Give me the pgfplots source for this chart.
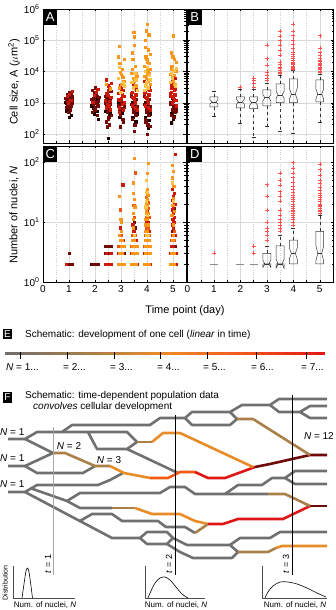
\documentclass[border=0pt]{standalone}
\usepackage{fontspec}
\setmainfont{Liberation Sans}
\usepackage{pgfplots}
\pgfplotsset{compat=1.18}

% scatter colours (hot-like)
\definecolor{hk0}{RGB}{35,0,0}
\definecolor{hk1}{RGB}{115,10,10}
\definecolor{hk2}{RGB}{205,25,10}
\definecolor{hk3}{RGB}{240,85,10}
\definecolor{hk4}{RGB}{250,150,25}
\definecolor{hk5}{RGB}{252,195,70}
\definecolor{outred}{RGB}{255,80,80}
% schematic colours
\definecolor{ngray}{RGB}{112,112,112}
\definecolor{nbrown}{RGB}{168,128,72}
\definecolor{norange}{RGB}{232,140,40}
\definecolor{nored}{RGB}{242,90,20}
\definecolor{nred}{RGB}{222,22,22}
\definecolor{ndred}{RGB}{110,10,10}

\newcommand{\fs}[1]{\fontsize{#1}{#1}\selectfont}

\pgfplotsset{
  pnlstyle/.style={
    scale only axis, xmin=0, xmax=5.5, xtick={0,1,2,3,4,5}, minor x tick num=1,
    xmajorgrids, xminorgrids, ymajorgrids,
    major grid style={gray!30, line width=0.4pt},
    minor grid style={gray!40, dotted, line width=0.4pt},
    axis line style={line width=0.7pt},
    tick style={black, line width=0.4pt},
    major tick length=2.5pt, minor tick length=1.5pt,
    unbounded coords=jump,
    tick label style={font=\fs{10}},
  },
  sqmark/.style={only marks, mark=square*, mark size=1.15pt},
  bxline/.style={black!80, line width=0.5pt, mark=none},
  whline/.style={black!80, line width=0.5pt, dashed, mark=none},
  outmark/.style={only marks, mark=+, mark size=2pt, color=outred, mark options={line width=0.5pt}},
  netline/.style={ngray, line width=2.6pt, line join=round, mark=none},
}
\tikzset{panlab/.style={fill=black, text=white, font=\fs{13}, inner sep=0pt,
    minimum width=14pt, minimum height=16pt, anchor=north west}}

\begin{document}
\begin{tikzpicture}
\useasboundingbox (0pt,0pt) rectangle (335pt,610pt);

% ---------- canvas for labels, E and F (image coordinates, y down) ----------
\begin{axis}[at={(0pt,0pt)}, anchor=south west, width=335pt, height=610pt,
  scale only axis, xmin=0, xmax=335, ymin=0, ymax=610, y dir=reverse,
  hide axis, clip=false, unbounded coords=jump,
  colormap={ecol}{rgb255(0)=(110,110,110) rgb255(2)=(165,125,75) rgb255(4)=(238,140,40) rgb255(6)=(242,85,28) rgb255(8)=(225,22,22)}]

% axis titles of A-D
\node[rotate=90, font=\fs{11}] at (14,82) {Cell size, A ($\mu$m\textsuperscript{2})};
\node[rotate=90, font=\fs{11}] at (14,215) {Number of nuclei, \textit{N}};
\node[font=\fs{11}] at (185,311) {Time point (day)};

% E
\node[fill=black, text=white, font=\fs{10}, inner sep=0pt, minimum width=9pt, minimum height=10.5pt] at (7.5,334) {E};
\node[anchor=west, inner sep=0pt, font=\fs{10}] at (25,335) {Schematic: development of one cell (\textit{linear} in time)};
\addplot[mesh, line width=3pt, point meta=x] coordinates {
(5,353)(13,353)(21,353)(29,353)(37,353)(45,353)(53,353)(61,353)(69,353)(77,353)(85,353)
(93,353)(101,353)(109,353)(117,353)(125,353)(133,353)(141,353)(149,353)(157,353)(165,353)
(173,353)(181,353)(189,353)(197,353)(205,353)(213,353)(221,353)(229,353)(237,353)(245,353)
(253,353)(261,353)(269,353)(277,353)(285,353)(293,353)(301,353)(309,353)(317,353)(325,353)};
\addplot[black, line width=0.8pt] coordinates {
(20.7,352)(20.7,359)(20.7,nan)(67.3,352)(67.3,359)(67.3,nan)(114,352)(114,359)(114,nan)
(160.7,352)(160.7,359)(160.7,nan)(207.3,352)(207.3,359)(207.3,nan)(256,352)(256,359)(256,nan)
(306,352)(306,359)};
\node[anchor=west, inner sep=0pt, font=\fs{10}] at (6,367) {\textit{N} = 1...};
\node[anchor=west, inner sep=0pt, font=\fs{10}] at (63,367) {= 2...};
\node[anchor=west, inner sep=0pt, font=\fs{10}] at (110,367) {= 3...};
\node[anchor=west, inner sep=0pt, font=\fs{10}] at (157,367) {= 4...};
\node[anchor=west, inner sep=0pt, font=\fs{10}] at (203,367) {= 5...};
\node[anchor=west, inner sep=0pt, font=\fs{10}] at (251,367) {= 6...};
\node[anchor=west, inner sep=0pt, font=\fs{10}] at (301,367) {= 7...};

% F
\node[fill=black, text=white, font=\fs{10}, inner sep=0pt, minimum width=9pt, minimum height=11pt] at (7.5,397) {F};
\node[anchor=west, inner sep=0pt, font=\fs{10}] at (25,396) {Schematic: time-dependent population data};
\node[anchor=west, inner sep=0pt, font=\fs{10}] at (33,407) {\textit{convolves} cellular development};

% lineage network, grey branches
\addplot[netline] coordinates {(8,439)(25,439)(37,432)(62,432)(72,425)(150,425)(160,418)(185,418)(192,412)(230,412)(242,405)(270,405)(279,399)(327,399)};
\addplot[netline] coordinates {(185,418)(192,425)(230,425)(237,419)(230,412)};
\addplot[netline] coordinates {(270,405)(279,412)(300,412)(310,406)(327,406)};
\addplot[netline] coordinates {(300,412)(310,418)(327,418)};
\addplot[netline] coordinates {(62,432)(127,432)(137,442)};
\addplot[netline] coordinates {(88,432)(97,449)(127,449)(137,442)};
\addplot[netline] coordinates {(127,449)(178,473)};
\addplot[netline] coordinates {(25,439)(53,453)};
\addplot[netline] coordinates {(8,466)(25,466)(53,453)};
\addplot[netline] coordinates {(25,466)(37,473)(83,473)(95,466)};
\addplot[netline] coordinates {(8,492)(25,492)(37,485)(98,485)(110,480)(123,473)};
\addplot[netline] coordinates {(30,488)(67,501)(80,493)(160,493)(170,487)(185,487)(195,494)(268,494)};
\addplot[netline] coordinates {(67,501)(80,508)(112,508)};
\addplot[netline] coordinates {(25,492)(112,538)(140,538)};
\addplot[netline] coordinates {(140,538)(147,532)(167,532)(173,538)(167,544)(147,544)(140,538)};
\addplot[netline] coordinates {(173,538)(187,545)(230,545)(238,552)};
\addplot[netline] coordinates {(167,544)(180,552)(193,558)(232,558)(238,552)};
\addplot[netline] coordinates {(80,521)(92,514)(112,514)(122,521)(158,521)(166,527)(185,527)(195,533)};
\addplot[netline] coordinates {(230,545)(240,538)(270,538)(280,532)(327,532)};
\addplot[netline] coordinates {(225,494)(238,485)(262,485)(272,478)(285,478)(295,471)(327,471)};
\addplot[netline] coordinates {(285,478)(295,484)(327,484)};
% coloured branches
\addplot[netline, nbrown] coordinates {(53,453)(65,453)(95,466)(110,466)};
\addplot[netline, norange] coordinates {(110,466)(124,473)(150,478)};
\addplot[netline, nored] coordinates {(150,478)(168,478)(180,472)(195,472)};
\addplot[netline, nred] coordinates {(195,472)(208,478)(225,478)(255,467)};
\addplot[netline, ndred] coordinates {(255,467)(270,464)(310,455)(327,455)};
\addplot[netline, nbrown] coordinates {(137,442)(152,442)};
\addplot[netline, norange] coordinates {(152,442)(163,433)(180,433)(253,467)};
\addplot[netline, nbrown] coordinates {(237,419)(253,419)(310,455)};
\addplot[netline, nbrown] coordinates {(112,508)(135,508)};
\addplot[netline, norange] coordinates {(135,508)(152,514)(180,514)(195,521)(208,524)};
\addplot[netline, nbrown] coordinates {(195,533)(208,524)};
\addplot[netline, nred] coordinates {(208,524)(223,524)(238,519)(283,519)(310,506)};
\addplot[netline, nbrown] coordinates {(268,494)(285,494)(310,506)};
\addplot[netline, ndred] coordinates {(310,506)(327,506)};
\addplot[netline, nbrown] coordinates {(238,552)(268,552)(276,548)};
\addplot[netline, norange] coordinates {(276,548)(282,546)(327,546)};
% time lines
\addplot[gray!70, line width=1pt] coordinates {(53,427)(53,575)};
\addplot[black, line width=0.9pt] coordinates {(175,415)(175,575)};
\addplot[black, line width=0.9pt] coordinates {(292,395)(292,575)};
\node[rotate=90, font=\fs{9}] at (48,564) {\textit{t} = 1};
\node[rotate=90, font=\fs{9}] at (169,564) {\textit{t} = 2};
\node[rotate=90, font=\fs{9}] at (286,564) {\textit{t} = 3};
\node[font=\fs{10}] at (69,446) {\textit{N} = 2};
\node[font=\fs{10}] at (109,460) {\textit{N} = 3};
\node[anchor=east, font=\fs{10}, inner sep=0pt] at (334,436) {\textit{N} = 12};
\node[anchor=west, font=\fs{10}, inner sep=0pt] at (0,432) {\textit{N} = 1};
\node[anchor=west, font=\fs{10}, inner sep=0pt] at (0,458) {\textit{N} = 1};
\node[anchor=west, font=\fs{10}, inner sep=0pt] at (0,484) {\textit{N} = 1};

% distributions
\addplot[black!70, line width=0.5pt] coordinates {(13,566)(13,598)(75,598)};
\addplot[black!70, line width=0.5pt] coordinates {(145,566)(145,598)(205,598)};
\addplot[black!70, line width=0.5pt] coordinates {(262,566)(262,598)(327,598)};
\addplot[black, line width=0.6pt, smooth] coordinates {(22,598)(24,584)(26,571)(27.5,568)(29,572)(31,586)(32.5,598)};
\addplot[black, line width=0.6pt, smooth] coordinates {(148,598)(151,591)(155,583)(160,578)(165,577)(170,580)(176,587)(182,594)(188,598)};
\addplot[black, line width=0.6pt, smooth] coordinates {(265,598)(268,592)(273,586)(280,582)(288,582)(297,584)(307,588)(317,593)(326,597)};
\node[rotate=90, font=\fs{7}] at (5,583) {Distribution};
\node[font=\fs{8}] at (45,605) {Num. of nuclei, \textit{N}};
\node[font=\fs{8}] at (176,605) {Num. of nuclei, \textit{N}};
\node[font=\fs{8}] at (295,605) {Num. of nuclei, \textit{N}};
\end{axis}

% ---------- A ----------
\begin{axis}[pnlstyle, ymode=log, ymin=51.5, ymax=1e6, height=134pt, ytick={1e2,1e3,1e4,1e5,1e6},
  at={(43pt,467pt)}, anchor=south west, width=143pt,
  xticklabels={}, yticklabels={10\textsuperscript{2},10\textsuperscript{3},10\textsuperscript{4},10\textsuperscript{5},10\textsuperscript{6}}]
\addplot[sqmark, hk0] coordinates {(0.89,950)(0.94,650)(0.98,1250)(1.03,850)(1.08,400)(1.11,1150)(0.91,550)(1.0,350)(1.05,1400)(0.86,1050)
(1.89,1000)(1.94,700)(1.98,450)(2.03,1300)(2.08,900)(2.11,300)(1.86,800)(2.01,1100)(2.06,550)(2.13,1250)
(2.42,850)(2.5,75)(2.57,450)(2.4,550)(2.53,1150)(2.95,350)(3.05,480)(2.9,1000)
(3.45,350)(3.52,850)(3.6,450)(3.42,1000)(3.57,250)
(3.94,350)(4.02,850)(4.1,450)(3.92,1000)(4.07,280)(3.97,700)(4.04,150)
(4.95,450)(5.02,300)(5.1,650)(4.92,230)(5.05,380)};
\addplot[sqmark, hk1] coordinates {(0.88,1200)(0.93,900)(0.97,1500)(1.02,1100)(1.07,800)(1.12,1300)(0.9,700)(0.95,1800)(1.0,2200)(1.05,600)(1.1,1000)(0.87,1400)(0.92,1100)(0.99,500)(1.04,1700)(1.09,900)(1.13,1600)(0.96,750)(1.01,1300)(1.06,2000)
(1.87,1300)(1.92,900)(1.97,2100)(2.02,700)(2.07,1600)(2.12,1100)(1.9,500)(1.95,1400)(2.0,3000)(2.05,1000)(2.1,800)(1.88,2500)(1.93,1200)(1.99,600)(2.04,1800)(2.09,400)(2.14,1500)
(2.41,1000)(2.46,500)(2.51,750)(2.56,1300)(2.61,400)(2.43,250)(2.48,1900)(2.53,350)(2.58,900)(2.39,1600)(2.5,300)(2.55,200)(2.6,2300)(2.45,1400)(2.52,600)(2.47,170)
(2.91,800)(2.96,400)(3.01,1100)(3.06,300)(3.11,750)(2.93,550)(2.98,170)(3.03,650)(3.08,250)(3.0,950)
(3.41,900)(3.46,500)(3.51,1100)(3.56,400)(3.61,750)(3.43,300)(3.48,650)(3.53,200)(3.58,1300)(3.39,1600)(3.5,120)(3.55,550)
(3.91,900)(3.96,500)(4.01,1100)(4.06,400)(4.11,750)(3.93,300)(3.98,650)(4.03,200)(4.08,1300)(3.89,1600)(4.0,100)(4.05,550)(3.95,250)(4.1,180)
(4.91,900)(4.96,600)(5.01,1100)(5.06,500)(5.11,750)(4.93,400)(4.98,1400)(5.03,350)(5.08,700)(4.89,1000)(5.0,800)(5.1,550)};
\addplot[sqmark, hk2] coordinates {(0.93,1600)(1.02,1900)(1.07,1200)(0.97,1000)(1.12,2300)
(1.96,1700)(2.05,2200)(1.91,1050)(2.1,2700)
(2.4,1200)(2.45,2000)(2.5,3500)(2.55,800)(2.6,1500)(2.42,5500)(2.47,900)(2.52,2500)(2.57,1100)(2.62,4200)(2.44,700)(2.49,1700)(2.54,3000)(2.59,600)
(2.9,2000)(2.95,1200)(3.0,2800)(3.05,900)(3.1,1600)(2.92,700)(2.97,3500)(3.02,1400)(3.07,2500)(3.12,1000)(2.94,500)(3.04,1800)(3.09,600)(2.88,1300)(2.99,2200)
(3.4,2000)(3.45,1500)(3.5,3000)(3.55,1000)(3.6,2500)(3.42,800)(3.47,4000)(3.52,1200)(3.57,1800)(3.62,600)(3.44,2200)(3.54,700)(3.59,3200)(3.49,1400)
(3.9,2000)(3.95,1500)(4.0,3000)(4.05,1000)(4.1,2500)(3.92,800)(3.97,4000)(4.02,1200)(4.07,1800)(4.12,600)(3.94,2200)(4.04,700)(4.09,3200)(3.99,1400)(3.89,5000)(4.06,2700)
(4.9,2000)(4.95,3000)(5.0,1500)(5.05,2500)(5.1,1200)(4.92,4000)(4.97,1000)(5.02,3500)(5.07,1800)(5.12,800)(4.94,2200)(5.04,1300)(5.09,2800)(4.99,5000)(4.91,1600)(5.06,6000)};
\addplot[sqmark, hk4] coordinates {(2.44,3900)(2.58,2800)
(2.9,30000)(2.95,18000)(3.0,8000)(3.05,12000)(3.1,5000)(2.92,65000)(2.97,9500)(3.02,4000)(3.07,6500)(3.12,25000)(2.94,3000)(3.04,7000)
(3.4,9000)(3.45,25000)(3.5,5000)(3.55,15000)(3.6,7000)(3.42,40000)(3.47,6000)(3.52,70000)(3.57,3500)(3.44,12000)(3.49,180000)(3.58,8500)(3.5,130000)
(3.9,15000)(3.95,30000)(4.0,8000)(4.05,50000)(4.1,12000)(3.92,100000)(3.97,6000)(4.02,20000)(4.07,9000)(4.12,4000)(3.94,60000)(3.99,25000)(4.04,5000)(4.09,18000)(4.0,320000)(3.96,200000)(4.06,150000)(3.91,7000)(4.11,35000)(4.03,11000)
(4.9,8000)(4.95,15000)(5.0,5000)(5.05,25000)(5.1,10000)(4.92,40000)(4.97,6500)(5.02,140000)(5.07,4000)(5.12,20000)(4.94,12000)(5.04,7500)(4.99,30000)};
\addplot[sqmark, hk5] coordinates {(2.93,14000)(3.08,4500)(2.99,2200)(3.11,3500)(2.89,6000)
(3.41,4500)(3.46,3000)(3.56,5500)(3.61,2500)(3.53,9000)
(3.93,10000)(3.98,4500)(4.03,3000)(4.08,7500)(3.9,2500)(4.1,5500)(4.0,14000)(3.95,3500)
(4.93,9000)(5.08,3500)(4.98,6000)(5.11,13000)(4.89,4500)(5.03,11000)};
\node[panlab] at (rel axis cs:0,1) {A};
\end{axis}

% ---------- B ----------
\begin{axis}[pnlstyle, ymode=log, ymin=51.5, ymax=1e6, height=134pt, ytick={1e2,1e3,1e4,1e5,1e6},
  at={(187.5pt,467pt)}, anchor=south west, width=145.5pt,
  xticklabels={}, yticklabels={}]
\addplot[bxline] coordinates {
(0.85,740)(0.85,910)(0.925,1070)(0.85,1260)(0.85,1550)(1.15,1550)(1.15,1260)(1.075,1070)(1.15,910)(1.15,740)(0.85,740)(1,nan)
(1.85,690)(1.85,880)(1.925,1070)(1.85,1300)(1.85,1550)(2.15,1550)(2.15,1300)(2.075,1070)(2.15,880)(2.15,690)(1.85,690)(2,nan)
(2.35,650)(2.35,820)(2.425,1000)(2.35,1220)(2.35,1550)(2.65,1550)(2.65,1220)(2.575,1000)(2.65,820)(2.65,650)(2.35,650)(2.5,nan)
(2.85,800)(2.85,1150)(2.925,1450)(2.85,1800)(2.85,2570)(3.15,2570)(3.15,1800)(3.075,1450)(3.15,1150)(3.15,800)(2.85,800)(3,nan)
(3.35,1000)(3.35,1400)(3.425,1800)(3.35,2300)(3.35,4000)(3.65,4000)(3.65,2300)(3.575,1800)(3.65,1400)(3.65,1000)(3.35,1000)(3.5,nan)
(3.85,1000)(3.85,1260)(3.925,1900)(3.85,2950)(3.85,5750)(4.15,5750)(4.15,2950)(4.075,1900)(4.15,1260)(4.15,1000)(3.85,1000)(4,nan)
(4.85,1070)(4.85,1300)(4.925,1900)(4.85,2800)(4.85,5400)(5.15,5400)(5.15,2800)(5.075,1900)(5.15,1300)(5.15,1070)(4.85,1070)};
\addplot[bxline] coordinates {(0.925,1070)(1.075,1070)(1,nan)(1.925,1070)(2.075,1070)(2,nan)(2.425,1000)(2.575,1000)(2.5,nan)
(2.925,1450)(3.075,1450)(3,nan)(3.425,1800)(3.575,1800)(3.5,nan)(3.925,1900)(4.075,1900)(4,nan)(4.925,1900)(5.075,1900)};
\addplot[whline] coordinates {(1,1550)(1,2400)(1,nan)(1,740)(1,360)(1,nan)
(2,1550)(2,2700)(2,nan)(2,690)(2,220)(2,nan)
(2.5,1550)(2.5,2750)(2.5,nan)(2.5,650)(2.5,78)(2.5,nan)
(3,2570)(3,4300)(3,nan)(3,800)(3,175)(3,nan)
(3.5,4000)(3.5,7800)(3.5,nan)(3.5,1000)(3.5,120)(3.5,nan)
(4,5750)(4,11000)(4,nan)(4,1000)(4,105)(4,nan)
(5,5400)(5,8300)(5,nan)(5,1070)(5,235)};
\addplot[bxline] coordinates {(0.925,2400)(1.075,2400)(1,nan)(0.925,360)(1.075,360)(1,nan)
(1.925,2700)(2.075,2700)(2,nan)(1.925,220)(2.075,220)(2,nan)
(2.425,2750)(2.575,2750)(2.5,nan)(2.425,78)(2.575,78)(2.5,nan)
(2.925,4300)(3.075,4300)(3,nan)(2.925,175)(3.075,175)(3,nan)
(3.425,7800)(3.575,7800)(3.5,nan)(3.425,120)(3.575,120)(3.5,nan)
(3.925,11000)(4.075,11000)(4,nan)(3.925,105)(4.075,105)(4,nan)
(4.925,8300)(5.075,8300)(5,nan)(4.925,235)(5.075,235)};
\addplot[outmark] coordinates {(2,3200)(2.5,3200)(2.5,4300)(2.5,5400)(2.5,6200)
(3,5400)(3,6200)(3,7800)(3,9500)(3,16000)(3,26000)(3,69000)
(3.5,8700)(3.5,9500)(3.5,11000)(3.5,12500)(3.5,14000)(3.5,17000)(3.5,20000)(3.5,33000)(3.5,48000)(3.5,69000)(3.5,98000)(3.5,132000)(3.5,195000)
(4,12000)(4,13000)(4,14000)(4,15000)(4,16500)(4,18000)(4,20000)(4,23000)(4,26000)(4,30000)(4,35000)(4,42000)(4,55000)(4,75000)(4,100000)(4,140000)(4,200000)(4,330000)
(5,9500)(5,10500)(5,11500)(5,12500)(5,14000)(5,15500)(5,17000)(5,19000)(5,21000)(5,23000)(5,27000)(5,32000)(5,40000)(5,55000)(5,140000)};
\node[panlab] at (rel axis cs:0,1) {B};
\end{axis}

% ---------- C ----------
\begin{axis}[pnlstyle, ymode=log, ymin=1, ymax=185, height=136pt, ytick={1,10,100},
  at={(43pt,328pt)}, anchor=south west, width=143pt,
  xticklabel style={/pgf/number format/assume math mode=true},
  yticklabels={10\textsuperscript{0},10\textsuperscript{1},10\textsuperscript{2}}]
\addplot[sqmark, hk0] coordinates {(0.95,2)(1.12,2)(1.87,2)(1.92,2)(1.97,2)(2.02,2)(2.07,2)(2.12,2)(2.48,3)(3.11,3)(3.5,3)};
\addplot[sqmark, hk1] coordinates {(0.88,2)(0.93,2)(1.0,2)(1.05,2)(1.1,2)(1.0,3)(1.89,2)(2.0,2)(2.1,2)
(2.4,3)(2.5,3)(2.55,3)(2.4,4)(2.45,4)(2.5,4)(2.55,4)(2.6,4)(2.97,2)(3.09,2)(2.94,4)
(3.47,2)(3.53,8)(3.52,10)(4.0,8)(4.97,4)(5.08,4)(4.98,7)(5.0,10)(5.05,17)};
\addplot[sqmark, hk2] coordinates {(0.9,2)(2.38,2)(2.42,2)(2.47,2)(2.52,2)(2.57,2)(2.62,2)(2.44,3)(2.6,3)
(2.88,2)(2.94,2)(3.0,2)(3.06,2)(2.9,3)(3.0,3)(3.08,3)(3.08,5)(2.98,8)(3.07,42)
(3.38,2)(3.44,2)(3.5,2)(3.56,2)(3.62,2)(3.4,3)(3.48,3)(3.56,3)(3.46,5)(3.56,5)(3.46,7)(3.52,7)(3.45,9)
(3.88,2)(3.94,2)(4.0,2)(4.06,2)(4.12,2)(3.9,3)(3.98,3)(4.06,3)(3.96,5)(4.04,5)(3.98,7)(4.06,7)(3.98,10)(4.03,10)(4.0,15)
(4.88,2)(4.94,2)(5.0,2)(5.06,2)(5.12,2)(4.9,3)(5.0,3)(5.1,3)(4.92,4)(5.02,4)(4.96,6)(5.06,6)(5.0,8)(4.97,9)(5.03,10)(4.99,11)(5.05,12)(5.0,14)(4.96,16)(5.02,18)(5.06,20)(4.98,23)(5.01,27)(5.04,30)(4.97,35)(5.08,135)};
\addplot[sqmark, hk3] coordinates {(2.9,4)(2.98,4)(3.06,4)(3.0,6)(2.97,16)
(3.4,4)(3.48,4)(3.56,4)(3.44,6)(3.54,6)(3.5,12)(3.49,19)(3.55,66)
(3.9,4)(3.98,4)(4.06,4)(3.92,6)(4.0,6)(4.08,6)(3.96,8)(4.04,8)(3.97,12)(4.06,12)(4.05,17)(4.04,21)(3.96,26)
(4.94,5)(5.04,5)(5.04,7)};
\addplot[sqmark, hk4] coordinates {(2.91,2)(3.03,2)(3.12,2)(2.95,3)(3.05,3)(3.02,4)(3.12,4)(2.96,5)(3.04,5)(2.94,6)(3.02,7)(3.02,10)(2.99,11)(2.93,27)
(3.41,2)(3.53,2)(3.59,2)(3.44,3)(3.52,3)(3.6,3)(3.44,4)(3.52,4)(3.6,4)(3.42,5)(3.5,5)(3.48,8)(3.48,11)(3.47,14)(3.53,18)(3.5,24)(3.46,30)(3.48,45)(3.5,117)
(3.91,2)(3.97,2)(4.03,2)(4.09,2)(3.94,3)(4.02,3)(4.1,3)(3.94,4)(4.02,4)(4.1,4)(3.92,5)(4.0,5)(4.08,5)(3.94,7)(4.02,7)(3.95,9)(4.05,9)(4.0,11)(3.94,11)(3.96,14)(4.04,14)(3.98,16)(4.02,19)(3.99,20)(4.01,24)(4.03,28)(4.02,35)(4.0,65)(4.04,96)
(4.91,2)(5.03,2)(4.95,3)(5.05,3)(4.99,5)(5.01,6)(5.02,9)(4.95,13)(5.04,15)(4.99,19)(5.0,25)(5.03,40)(4.96,55)(5.0,70)(4.98,89)};
\addplot[sqmark, hk5] coordinates {(3.5,6)(3.96,6)(4.04,6)(4.01,13)(3.95,18)(3.97,22)(3.99,31)(3.97,50)(5.01,22)(4.97,45)};
\node[panlab] at (rel axis cs:0,1) {C};
\end{axis}

% ---------- D ----------
\begin{axis}[pnlstyle, ymode=log, ymin=1, ymax=185, height=136pt, ytick={1,10,100},
  at={(187.5pt,328pt)}, anchor=south west, width=145.5pt, yticklabels={},
  xticklabel style={/pgf/number format/assume math mode=true}]
\addplot[bxline, black!45] coordinates {(0.85,2)(1.15,2)(1,nan)(1.85,2)(2.15,2)(2,nan)(2.35,2)(2.65,2)};
\addplot[bxline] coordinates {
(2.85,2)(2.85,1.75)(2.925,2)(2.85,2.3)(2.85,3)(3.15,3)(3.15,2.3)(3.075,2)(3.15,1.75)(3.15,2)(2.85,2)(3,nan)
(3.35,2)(3.35,1.7)(3.425,2)(3.35,2.4)(3.35,4)(3.65,4)(3.65,2.4)(3.575,2)(3.65,1.7)(3.65,2)(3.35,2)(3.5,nan)
(3.85,2)(3.85,2.4)(3.925,3)(3.85,3.7)(3.85,5)(4.15,5)(4.15,3.7)(4.075,3)(4.15,2.4)(4.15,2)(3.85,2)(4,nan)
(4.85,2)(4.85,2.2)(4.925,3)(4.85,4.1)(4.85,7)(5.15,7)(5.15,4.1)(5.075,3)(5.15,2.2)(5.15,2)(4.85,2)};
\addplot[bxline] coordinates {(2.925,2)(3.075,2)(3,nan)(3.425,2)(3.575,2)(3.5,nan)(3.925,3)(4.075,3)(4,nan)(4.925,3)(5.075,3)};
\addplot[whline] coordinates {(3,3)(3,4)(3,nan)(3.5,4)(3.5,6)(3.5,nan)(4,5)(4,8)(4,nan)(5,7)(5,13)};
\addplot[bxline] coordinates {(2.925,4)(3.075,4)(3,nan)(3.425,6)(3.575,6)(3.5,nan)(3.925,8)(4.075,8)(4,nan)(4.925,13)(5.075,13)};
\addplot[outmark] coordinates {(1,3)(2.5,3)(2.5,4)(3,5)(3,6)(3,7)(3,8)(3,10)(3,16)(3,27)(3,42)
(3.5,7)(3.5,8)(3.5,9)(3.5,10)(3.5,11)(3.5,13)(3.5,16)(3.5,22)(3.5,27)(3.5,32)(3.5,41)(3.5,50)(3.5,66)
(4,9)(4,10)(4,11)(4,12)(4,13)(4,14)(4,15)(4,16)(4,17)(4,18)(4,20)(4,22)(4,24)(4,26)(4,28)(4,31)(4,35)(4,40)(4,46)(4,55)(4,65)(4,80)(4,98)
(5,14)(5,15)(5,16)(5,17)(5,18)(5,19)(5,20)(5,22)(5,24)(5,26)(5,28)(5,30)(5,34)(5,38)(5,44)(5,50)(5,60)(5,75)(5,93)};
\node[panlab] at (rel axis cs:0,1) {D};
\end{axis}
\end{tikzpicture}
\end{document}
